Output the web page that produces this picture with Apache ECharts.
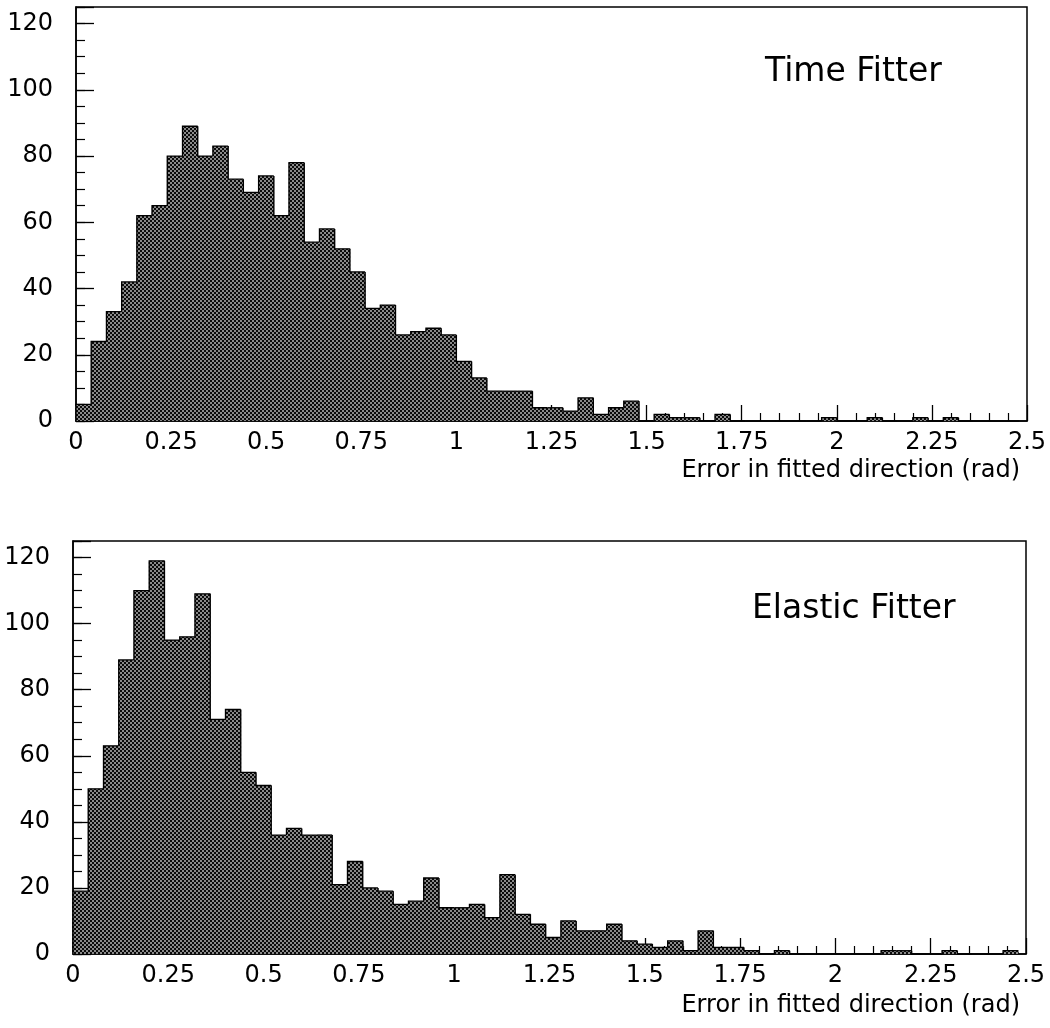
<!DOCTYPE html>
<html>
<head>
<meta charset="utf-8">
<script src="https://cdn.jsdelivr.net/npm/echarts@6/dist/echarts.min.js"></script>
<style>
  html, body { margin: 0; padding: 0; background: #fff; }
  #chart { width: 1050px; height: 1028px; }
</style>
</head>
<body>
<div id="chart"></div>
<script>
// histogram bins: width 0.04 rad, starting at 0
var BIN_WIDTH = 0.04;
var xTicks = [0, 0.25, 0.5, 0.75, 1, 1.25, 1.5, 1.75, 2, 2.25, 2.5];
var yTicks = [0, 20, 40, 60, 80, 100, 120];

// counts per bin
var timeFitter = [5, 24, 33, 42, 62, 65, 80, 89, 80, 83, 73, 69, 74, 62, 78, 54, 58, 52, 45, 34,
  35, 26, 27, 28, 26, 18, 13, 9, 9, 9, 4, 4, 3, 7, 2, 4, 6, 0, 2, 1,
  1, 0, 2, 0, 0, 0, 0, 0, 0, 1, 0, 0, 1, 0, 0, 1, 0, 1, 0, 0, 0, 0];
var elasticFitter = [19, 50, 63, 89, 110, 119, 95, 96, 109, 71, 74, 55, 51, 36, 38, 36, 36, 21, 28, 20,
  19, 15, 16, 23, 14, 14, 15, 11, 24, 12, 9, 5, 10, 7, 7, 9, 4, 3, 2, 4,
  1, 7, 2, 2, 1, 0, 1, 0, 0, 0, 0, 0, 0, 1, 1, 0, 0, 1, 0, 0, 0, 1];

var FONT = 'DejaVu Sans';

// dotted fill like the printed hatch
var tile = document.createElement('canvas');
tile.width = 4; tile.height = 4;
var g = tile.getContext('2d');
g.fillStyle = '#0a0a0a';
g.fillRect(0, 0, 4, 4);
g.fillStyle = '#8a8a8a';
g.fillRect(0, 0, 2, 2);
g.fillRect(2, 2, 2, 2);
var hatch = { image: tile, repeat: 'repeat' };

// [left edge, right edge, count, count of previous bin]
function toBins(counts) {
  return counts.map(function (c, i) {
    return [i * BIN_WIDTH, (i + 1) * BIN_WIDTH, c, i > 0 ? counts[i - 1] : 0];
  });
}

// filled bin without its own border + step outline like a histogram
function renderHist(params, api) {
  var h = api.value(2);
  var prev = api.value(3);
  var p0 = api.coord([api.value(0), h]);
  var p1 = api.coord([api.value(1), 0]);
  var pPrev = api.coord([api.value(0), prev]);
  var children = [];
  if (h > 0) {
    // small overlap so neighbouring bins leave no seam
    children.push({
      type: 'rect',
      shape: { x: p0[0] - 0.4, y: p0[1], width: p1[0] - p0[0] + 0.8, height: p1[1] - p0[1] },
      style: { fill: hatch }
    });
  }
  children.push({
    type: 'polyline',
    shape: { points: [[p0[0], pPrev[1]], [p0[0], p0[1]], [p1[0], p0[1]]] },
    style: { stroke: '#000', lineWidth: 1.3, fill: null }
  });
  return { type: 'group', children: children };
}

function xAxisFor(idx) {
  return {
    gridIndex: idx, type: 'value', min: xTicks[0], max: xTicks[xTicks.length - 1], interval: 0.25,
    axisLine: { show: true, onZero: false, lineStyle: { color: '#000', width: 1.5 } },
    axisTick: { show: true, inside: true, length: 16, lineStyle: { color: '#000', width: 1.3 } },
    minorTick: { show: true, splitNumber: 5, length: 8, lineStyle: { color: '#000', width: 1.2 } },
    axisLabel: { margin: 10, fontSize: 24, color: '#000', fontFamily: FONT, showMinLabel: true, showMaxLabel: true },
    splitLine: { show: false }, minorSplitLine: { show: false }
  };
}

function yMinorFor(idx) {
  return {
    gridIndex: idx, type: 'value', position: 'left', min: 0, max: 125, interval: 5,
    axisLine: { show: true, onZero: false, lineStyle: { color: '#000', width: 1.5 } },
    axisTick: { show: true, inside: true, length: 9, lineStyle: { color: '#000', width: 1.2 } },
    axisLabel: { show: false },
    splitLine: { show: false }
  };
}

function yMajorFor(idx) {
  return {
    gridIndex: idx, type: 'value', position: 'left', min: 0, max: 125, interval: 20,
    axisLine: { show: false },
    axisTick: { show: true, inside: true, length: 18, lineStyle: { color: '#000', width: 1.3 } },
    axisLabel: {
      margin: 23, fontSize: 24, color: '#000', fontFamily: FONT,
      formatter: function (v) { return yTicks.indexOf(v) >= 0 ? String(v) : ''; }
    },
    splitLine: { show: false }
  };
}

var chart = echarts.init(document.getElementById('chart'));
chart.setOption({
  animation: false,
  backgroundColor: '#fff',
  grid: [
    { left: 76, right: 23, top: 7, height: 414, show: true, borderColor: '#000', borderWidth: 1.5 },
    { left: 73, right: 24, top: 541, height: 413, show: true, borderColor: '#000', borderWidth: 1.5 }
  ],
  xAxis: [xAxisFor(0), xAxisFor(1)],
  yAxis: [yMinorFor(0), yMajorFor(0), yMinorFor(1), yMajorFor(1)],
  graphic: [
    { type: 'text', left: 765, top: 56, style: { text: 'Time Fitter', font: '33px "DejaVu Sans"', fill: '#000' } },
    { type: 'text', left: 752, top: 593, style: { text: 'Elastic Fitter', font: '33px "DejaVu Sans"', fill: '#000' } },
    { type: 'text', right: 30, top: 459, style: { text: 'Error in fitted direction (rad)', font: '24px "DejaVu Sans"', fill: '#000' } },
    { type: 'text', right: 30, top: 994, style: { text: 'Error in fitted direction (rad)', font: '24px "DejaVu Sans"', fill: '#000' } }
  ],
  series: [
    {
      type: 'custom', name: 'Time Fitter', xAxisIndex: 0, yAxisIndex: 0,
      renderItem: renderHist, encode: { x: [0, 1], y: 2 }, data: toBins(timeFitter)
    },
    {
      type: 'custom', name: 'Elastic Fitter', xAxisIndex: 1, yAxisIndex: 2,
      renderItem: renderHist, encode: { x: [0, 1], y: 2 }, data: toBins(elasticFitter)
    }
  ]
});
</script>
</body>
</html>
